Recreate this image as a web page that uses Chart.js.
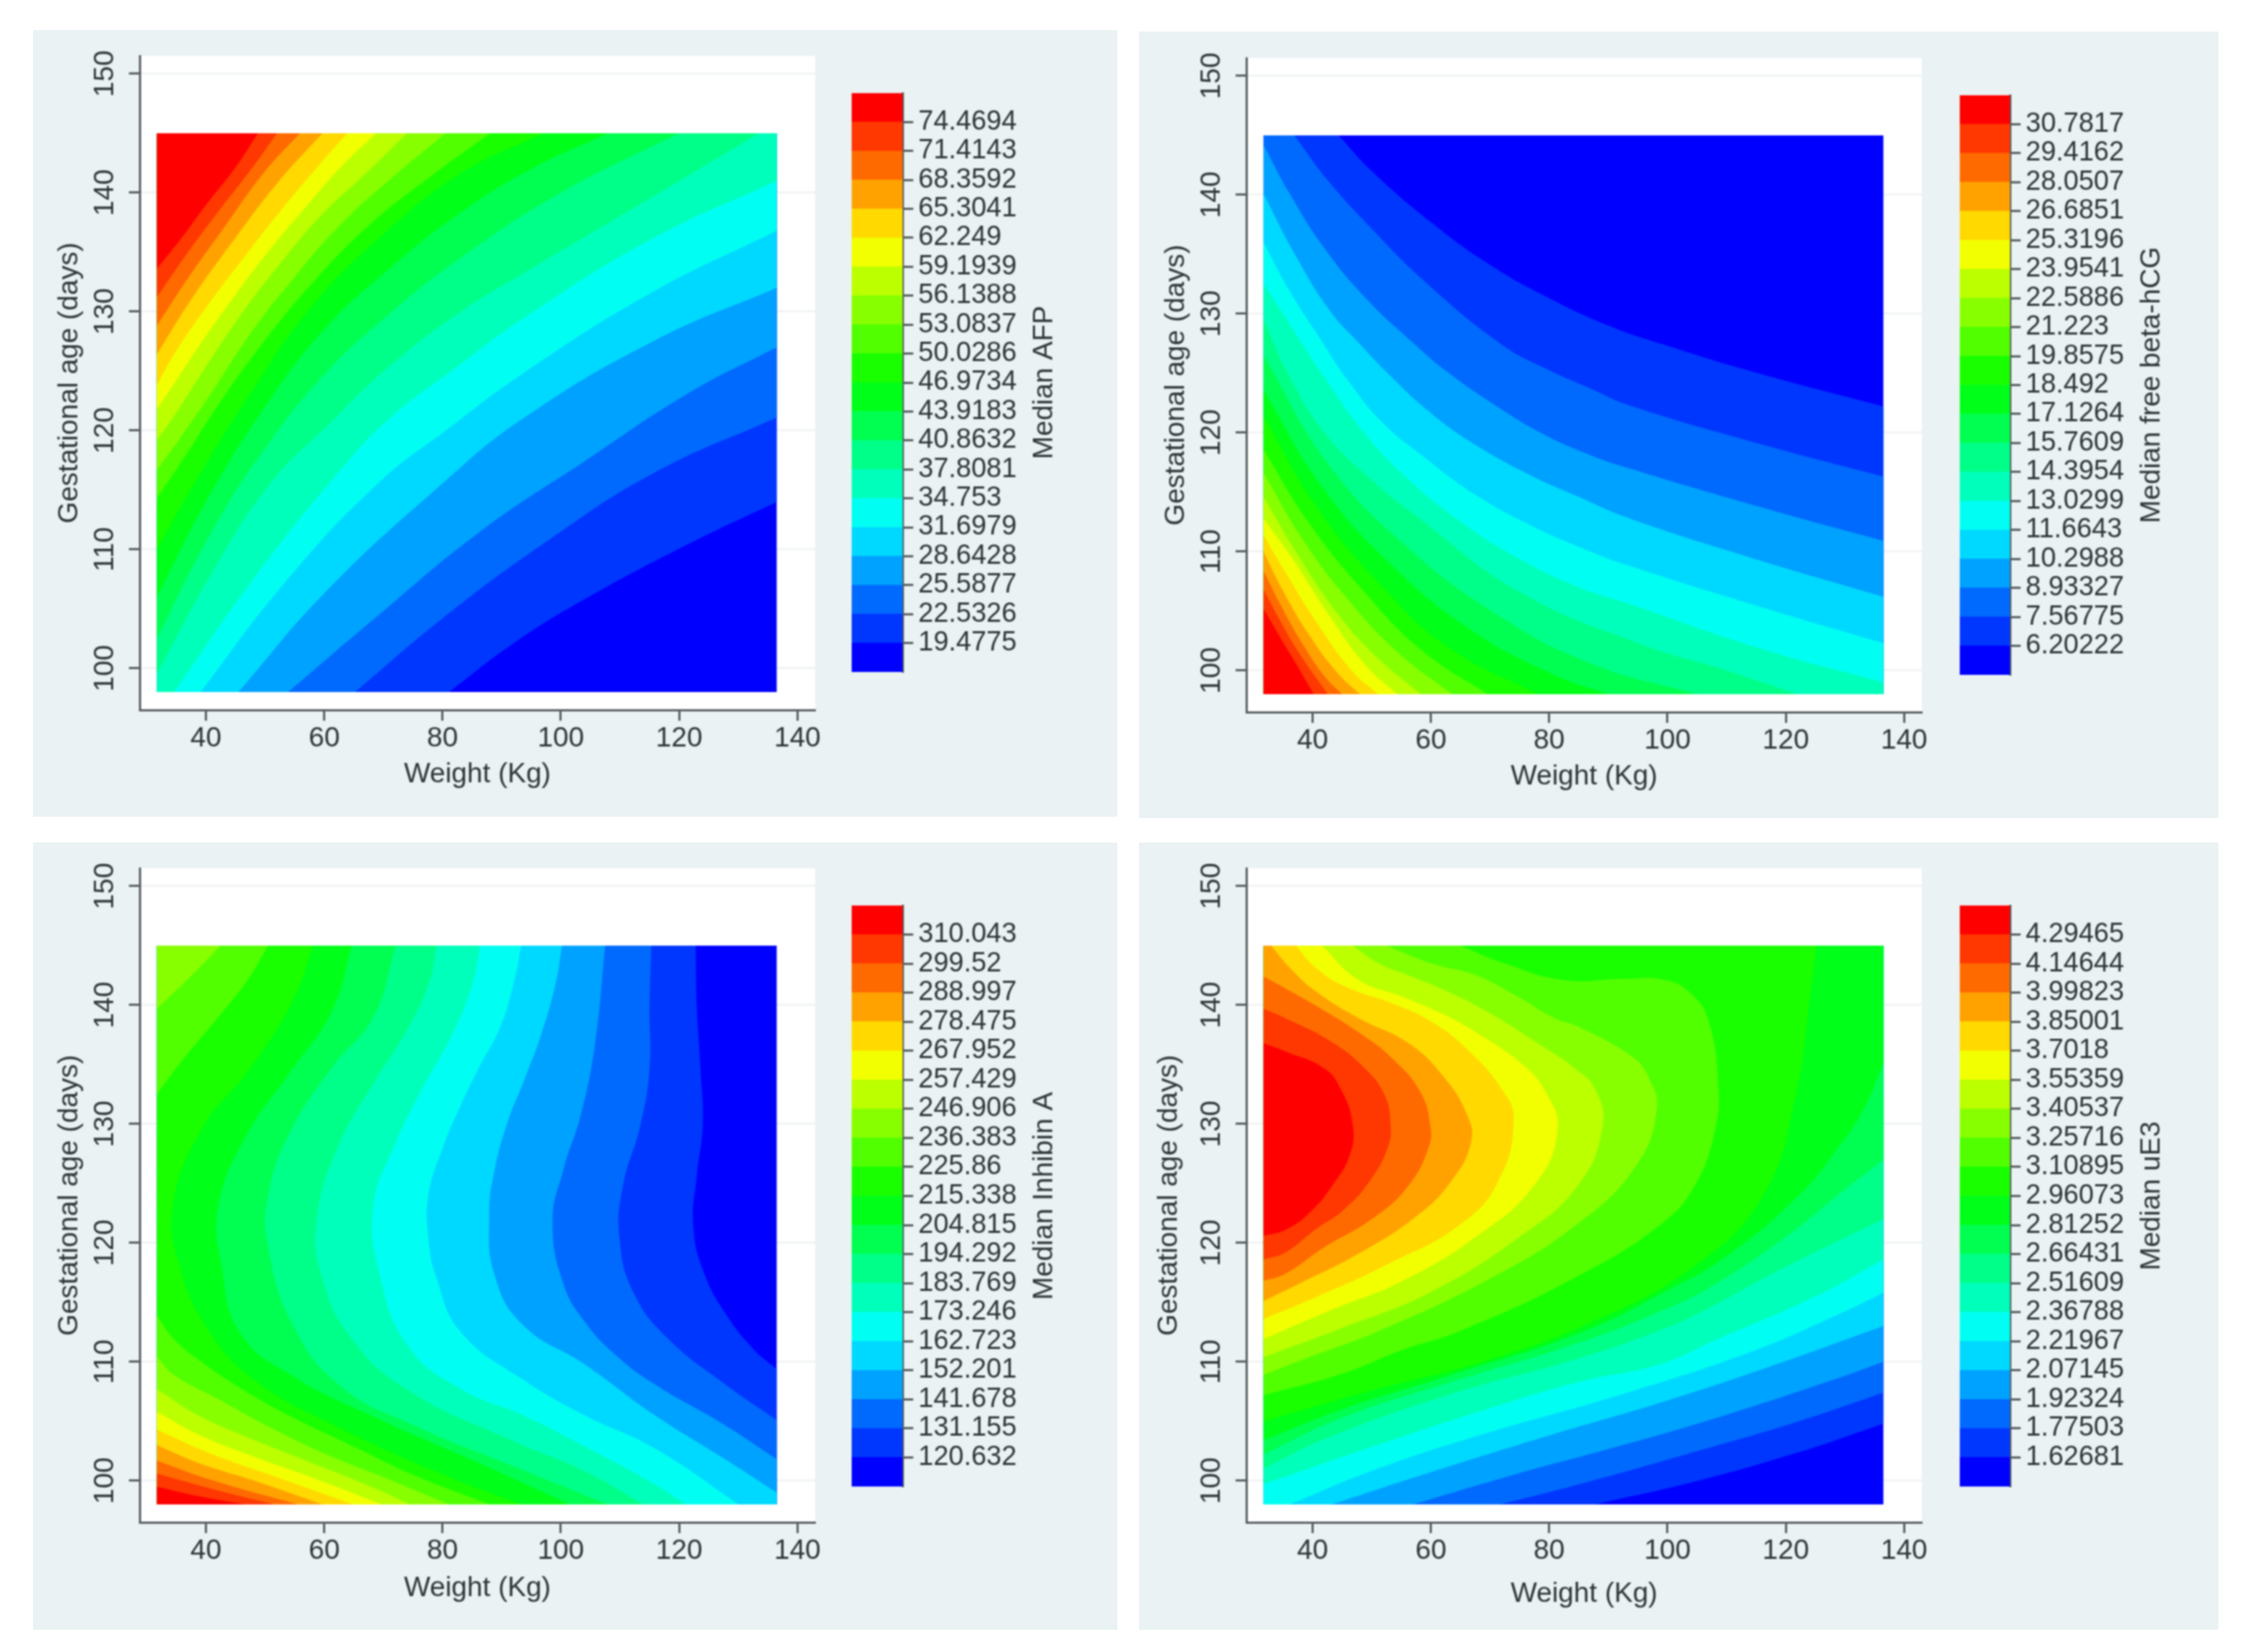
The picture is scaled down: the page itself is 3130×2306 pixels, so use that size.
<!DOCTYPE html>
<html>
<head>
<meta charset="utf-8">
<title>Median serum markers by weight and gestational age</title>
<script src="https://cdn.jsdelivr.net/npm/chart.js"></script>
<style>
    html, body { margin: 0; background: #fff; }
    body { position: relative; width: 3130px; height: 2306px; overflow: hidden; }
    .panel { position: absolute; background: #eaf2f3; }
    canvas { position: absolute; filter: blur(0.8px); }
</style>
</head>
<body>
<script>
// band colours, low to high
const bandColors = ["#0000ff", "#0037ff", "#006aff", "#00a2ff", "#00d9ff", "#00fff2", "#00ffbb", "#00ff88", "#00ff51", "#00ff19",
    "#19ff00", "#51ff00", "#88ff00", "#bbff00", "#f2ff00", "#ffd900", "#ffa200", "#ff6a00", "#ff3700", "#ff0000"];

const weightTicks = [40, 60, 80, 100, 120, 140];
const ageTicks = [100, 110, 120, 130, 140, 150];

// contour levels (colour bar ticks)
const afpLevels = [19.4775, 22.5326, 25.5877, 28.6428, 31.6979, 34.753, 37.8081, 40.8632, 43.9183, 46.9734, 50.0286, 53.0837, 56.1388, 59.1939, 62.249, 65.3041, 68.3592, 71.4143, 74.4694];
const hcgLevels = [6.20222, 7.56775, 8.93327, 10.2988, 11.6643, 13.0299, 14.3954, 15.7609, 17.1264, 18.492, 19.8575, 21.223, 22.5886, 23.9541, 25.3196, 26.6851, 28.0507, 29.4162, 30.7817];
const inhibinLevels = [120.632, 131.155, 141.678, 152.201, 162.723, 173.246, 183.769, 194.292, 204.815, 215.338, 225.86, 236.383, 246.906, 257.429, 267.952, 278.475, 288.997, 299.52, 310.043];
const ue3Levels = [1.62681, 1.77503, 1.92324, 2.07145, 2.21967, 2.36788, 2.51609, 2.66431, 2.81252, 2.96073, 3.10895, 3.25716, 3.40537, 3.55359, 3.7018, 3.85001, 3.99823, 4.14644, 4.29465];

// contour lines: one line per level, [weight, age]
const afpCurves = [
    [[81.1,98],[92,102.1],[104,105.8],[121.8,110.5],[136.5,114]],
    [[65.2,98],[80,104.2],[98,110.8],[116,116.5],[136.5,121.1]],
    [[53.9,98],[68.3,104.1],[86.1,111.4],[104,117.4],[121.8,123.2],[136.5,127]],
    [[45.5,98],[60,106.3],[79.9,115.5],[93.6,121],[116,127.6],[136.5,132]],
    [[39.1,98],[53,107],[69,115.5],[81.1,120.2],[93.6,124.8],[115,131.5],[136.5,136.8]],
    [[34.6,98],[48,107.5],[62.1,116.3],[71,121],[83.1,125.6],[93.6,129.4],[115,136],[136.5,141]],
    [[31.7,99.5],[41,108],[50.8,115.5],[60.9,120.6],[71,125.4],[83.1,130],[93.6,133.2],[115,139.5],[133.5,145]],
    [[31.7,102.5],[41,111.5],[50,118.5],[60,124.7],[71,129.8],[83,134.5],[100,140],[120,145]],
    [[31.7,106],[40,114],[50,122],[60,128.5],[71,133.6],[83,138.3],[95,142],[108,145]],
    [[31.7,110],[38,115.5],[48,123.5],[58,130.5],[70,136.5],[83,141.6],[97,145]],
    [[31.7,114.3],[36.7,118],[42.7,122.6],[50,127.6],[58,132.4],[67,137],[77,141],[88,145]],
    [[31.7,116.7],[35.4,119.2],[40.7,123],[47.6,128.2],[54.8,132.8],[62.9,137.4],[71.8,141.4],[80.5,145]],
    [[31.7,119.2],[34.6,121.2],[39.5,125],[46,129.8],[52.8,134.2],[59.7,138.2],[67,141.6],[74,145]],
    [[31.7,121.8],[34.2,123.6],[38.7,127],[44.7,131.2],[50.8,135.2],[56.9,138.8],[62.9,142.2],[68.8,145]],
    [[31.7,123.8],[34.6,126.4],[40.7,130.8],[46.8,134.8],[52.8,138.6],[58.9,142.2],[63.9,145]],
    [[31.7,126.4],[37.5,131],[44.7,136],[52.4,141],[59.7,145]],
    [[31.7,128.8],[36.7,132.6],[42.7,136.8],[50,141.8],[55.9,145]],
    [[31.7,131.2],[36.7,134.8],[42.7,138.8],[48,142.2],[52,145]],
    [[31.7,133.6],[35.9,136.2],[40.7,139.4],[45.1,142.2],[48.8,145]]
];

const hcgCurves = [
    [[44.4,145],[50,142],[60,137.7],[70,134.1],[80,131.3],[90,129],[100,127.3],[116,124.9],[136.5,122.2]],
    [[36.9,145],[42.6,141.2],[49.7,137.3],[59.2,132.6],[71.7,127.5],[78.9,125.5],[87,123.7],[93.5,122.3],[116,119],[136.5,116.3]],
    [[31.7,144.2],[36,140.2],[42,135.5],[49,131.3],[57.1,127.5],[62.8,125.1],[70.9,122.3],[78.9,119.9],[87,118.1],[93.5,117],[116,113.7],[136.5,110.9]],
    [[31.7,140.1],[37,135],[43,130.2],[47.9,127.5],[53.1,124.8],[59.6,121.8],[66.8,119.2],[76.9,116.4],[85,114.6],[93.5,112.8],[116,109.2],[136.5,106.2]],
    [[31.7,136],[36,132],[41.8,127.5],[45.8,124.5],[51.9,120.8],[58.7,118],[66.8,115],[76.9,112.2],[87,110],[93.5,108.8],[116,105.3],[136.5,102.3]],
    [[31.7,132.5],[35,130],[38.2,127.5],[42.2,124.5],[48.7,120],[55.5,116.4],[64.8,112.6],[74.9,109.4],[85,107],[93.5,105.6],[116,101.8],[136.5,99]],
    [[31.7,129.5],[36,124.8],[42,120],[50,116],[58,112.8],[75,106.6],[95,102.3],[110,100],[122,98]],
    [[31.7,126.5],[42.6,117.4],[55.5,110.6],[70.9,104.8],[87,100.6],[105,98]],
    [[31.7,123.6],[41.4,115.6],[53.1,109],[66.8,103.4],[81,99.6],[90,98]],
    [[31.7,121.4],[40.6,113.8],[51.9,107],[62.8,102],[78,98]],
    [[31.7,118.6],[39.4,112.4],[49.1,106.4],[58.7,101.6],[69.6,98]],
    [[31.7,116.6],[38.6,110.8],[46.6,105.6],[54.7,101.4],[63.6,98]],
    [[31.7,114.6],[37.4,109.8],[44.2,104.8],[50.7,101.2],[58.3,98]],
    [[31.7,112.8],[36.6,109.4],[42.6,104.8],[48.7,100.6],[54.3,98]],
    [[31.7,111.4],[35.7,108],[41,103.8],[46.6,100],[51.1,98]],
    [[31.7,110],[34.9,106.8],[39.4,103],[44.2,99.8],[48,98]],
    [[31.7,108.4],[34.5,105.6],[38.6,102],[42.2,99.4],[45,98]],
    [[31.7,106.8],[34.5,104.2],[37.8,101.4],[42.6,98]],
    [[31.7,105.2],[34.5,102.8],[37.4,100.4],[40.2,98]]
];

const inhibinCurves = [
    [[136.5,109.4],[132.5,111.1],[127.8,114.1],[124.2,117.5],[122.4,121.4],[123,125.7],[124,130],[123.6,134.7],[123,139.8],[122.8,145]],
    [[136.5,105.1],[127.8,108.1],[118.2,111.9],[112.3,115.8],[109.9,120.5],[110.5,124.8],[113.5,130],[115,134.7],[115,139.8],[115.3,145]],
    [[136.5,101.8],[127,104.9],[115.9,108.1],[109.2,110.6],[104,113.4],[100.4,116.6],[98.6,121.8],[100.4,126.1],[103.4,130.8],[105.8,136.8],[107.5,145]],
    [[136.5,99],[127.8,101.8],[115.9,105.5],[104,109.8],[93.6,113.1],[88.8,117.3],[87.9,122.5],[88.8,126.1],[90.9,130],[93.9,133.8],[96.8,137.7],[99.2,142],[100.2,145]],
    [[130.1,98],[115.9,102.7],[104,105.5],[93.6,108.5],[83.1,112.5],[79,117],[77.6,120.5],[77.6,124],[80.2,128.2],[83.2,131.7],[86.1,134.7],[89.7,138.1],[92.1,142],[93.3,145]],
    [[121.2,98],[115.9,99.7],[104,102.9],[93.6,105.5],[83.1,107.7],[74.2,111.3],[69.4,117.3],[68.3,123.1],[71.9,128.2],[76.6,133],[81.4,137.3],[84.9,141.5],[86.4,145]],
    [[114,98],[104,100.8],[92.1,103.3],[74.2,107.6],[64.7,111.9],[59.4,117.5],[58.8,122.2],[62.4,128.2],[68.3,133.4],[74.2,138.1],[77.8,142],[79,145]],
    [[108,98],[92.1,101.2],[75.4,104.6],[62.4,108.1],[54.6,113.2],[50.5,119.7],[50.5,123.9],[54,129.1],[61.2,134.7],[68.3,139],[72.1,145]],
    [[101.6,98],[86.1,101.5],[68.3,105.4],[54,109],[45.7,112.5],[42.7,117.9],[42.1,123.1],[46.9,129.1],[54,134.2],[61.2,139.4],[64.7,145]],
    [[93.3,98],[80.2,100.5],[62.4,104.5],[48.1,108.5],[40,113],[35.6,118],[34.4,123.1],[39.2,129.5],[47.5,134.7],[54.6,140.3],[58.2,145]],
    [[88,98],[75,100.5],[64.9,102.9],[54.8,105.3],[46.8,107.5],[39.5,109.9],[34.6,111.9],[31.7,113.9]],
    [[81.1,98],[71,100.1],[60.9,102.1],[50.8,104.5],[42.7,106.7],[34.6,108.9],[31.7,110.4]],
    [[74.6,98],[67,99.7],[56.9,101.7],[46.8,103.7],[38.7,105.5],[31.7,107.7]],
    [[69.8,98],[58.9,100.1],[48.8,101.9],[38.7,103.9],[31.7,105.8]],
    [[64.9,98],[50.8,100.5],[40.7,102.3],[31.7,104.3]],
    [[59.7,98],[48.8,99.9],[38.7,101.5],[31.7,103]],
    [[55.6,98],[40.7,100.1],[31.7,101.7]],
    [[51.6,98],[41.9,99.2],[31.7,100.6]],
    [[46.8,98],[38.7,98.7],[31.7,99.5]]
];
// inhibin levels 10 and 11 also close off the top left corner
const inhibinCornerCurves = [
    [10, [[31.7,132.5],[35.6,135.1],[42.1,139],[46.9,142],[50.5,145]]],
    [11, [[31.7,139.7],[37.4,142.4],[42.5,145]]]
];

const ue3Curves = [
    [[87.7,98],[104.4,99.9],[122.2,102.4],[136.5,104.8]],
    [[71.7,98],[86.6,99.9],[104.4,102.4],[122.2,105],[136.5,107.4]],
    [[56.9,98],[74.7,100.6],[92.5,103],[110.3,105.6],[128.1,108.5],[136.5,110]],
    [[43.2,98],[59.2,100.6],[80.6,103.9],[98.4,106.5],[116.2,109.4],[136.5,113]],
    [[36.1,98],[50.9,101],[68.7,103.9],[92.5,107.3],[113.9,110.8],[128.1,113.8],[136.5,115.8]],
    [[31.7,99.7],[50.9,103],[68.7,105.9],[85,108.3],[98.7,109.8],[108,111.8],[125,115.5],[136.5,118.6]],
    [[31.7,101],[42,103.5],[62.8,107.2],[85,110.3],[100,112.9],[108,114.8],[120,118],[136.5,122]],
    [[31.7,102.2],[45,105.3],[62.8,108.2],[85,111.6],[100,114.5],[108,116.5],[120,120.5],[130,124.5],[136.5,127]],
    [[31.7,103.4],[45,106],[62.8,108.8],[85,112.4],[100,116],[110.3,119],[122.2,124],[128.1,127.5],[132.9,131],[136.5,135.1]],
    [[31.7,105],[50.9,107.7],[68.7,110],[86.6,113.2],[104.4,118],[116.2,124],[121.7,132.5],[124,140.3],[125.2,145]],
    [[31.7,107.2],[45,109],[55.2,111],[65,112.6],[84.8,117.2],[98.7,121.5],[104.6,124.8],[108,129.4],[108.6,133],[107,138.6],[104.1,140.9],[99.7,142.1],[92.3,142.2],[82.4,142.1],[72.5,143.5],[65,145]],
    [[31.7,108.9],[40,110.5],[50.3,112.4],[70,117],[84.8,121.6],[94.7,126.5],[98.2,131.3],[96.7,134],[94.2,135.6],[84.8,138.2],[80.9,138.9],[74,140.9],[67.6,142.5],[60.1,143.5],[52.5,145]],
    [[31.7,110.4],[45.3,112.9],[60.1,115.9],[75,120.5],[84.8,124.8],[89,129.7],[87.8,132.9],[84.3,134.7],[77.4,137],[70,139.3],[62.6,141.2],[56.2,142.5],[51.2,143.5],[46.8,145]],
    [[31.7,111.9],[42.9,114.3],[55.2,116.8],[67.6,120.5],[77.4,124.8],[81.4,129.4],[79.4,132.7],[75,135.2],[67.6,137.7],[62.6,139.1],[55.2,140.7],[47.8,142.1],[41.6,145]],
    [[31.7,113.6],[40.4,115.4],[52.7,118.2],[65.1,121.6],[71.5,125.3],[74,130.4],[72,132.9],[66.1,136.3],[60.1,138.6],[54.2,140],[45.3,141.6],[40.4,143.2],[37.2,145]],
    [[31.7,115.1],[37.9,116.6],[47.8,119.1],[57.7,122.3],[63.6,125.3],[66.8,128.5],[66.1,130.8],[62.1,134],[56.2,136.8],[47.8,138.9],[40.4,141.2],[36.4,143],[33,145]],
    [[31.7,116.8],[35.4,117.4],[41.9,119.6],[50.3,122.1],[56.2,124.8],[59.6,128],[59.9,129.9],[58.2,132.7],[53.7,135.4],[47.8,137.7],[40.4,140],[35.4,141.4],[31.7,142.4]],
    [[31.7,118.6],[35.4,119.2],[40.4,121.1],[45.3,122.8],[49.8,125.3],[52.7,128],[53.2,129.9],[52.2,132.4],[48.8,134.7],[42.9,137],[35.4,138.9],[31.7,139.7]],
    [[31.7,120.6],[35.4,121.1],[39.4,122.5],[43.3,124.8],[46.3,127.4],[46.8,129.9],[44.8,132.9],[41.9,134.7],[35.4,136.1],[31.7,136.8]]
];

// data window of the contour fill, and axis ranges
const fillLeft = 31.7, fillRight = 136.5, fillBottom = 98, fillTop = 145;
const xRange = [28.8, 143], yRange = [96.5, 151.5];

const FONT = "'Liberation Sans', Arial, sans-serif";
const TEXT = "#2e3436", AXIS = "#555b5e";

// PANEL LAYOUT (page pixels)
const panels = [
    { box: [46, 42, 1560, 1140], plotL: 195, plotB: 991, bar: [1189, 130, 1260, 938], barTitleX: 1458,
      yTitlePad: 28, xTitlePad: 35, title: "Median AFP", levels: afpLevels, curves: afpCurves },
    { box: [1590, 44, 3097, 1142], plotL: 1740, plotB: 994, bar: [2736, 133, 2806, 942], barTitleX: 3004,
      yTitlePad: 29, xTitlePad: 34, title: "Median free beta-hCG", levels: hcgLevels, curves: hcgCurves, highBelow: true },
    { box: [46, 1176, 1560, 2275], plotL: 195, plotB: 2125, bar: [1189, 1264, 1260, 2075], barTitleX: 1458,
      yTitlePad: 28, xTitlePad: 34, title: "Median Inhibin A", levels: inhibinLevels, curves: inhibinCurves, extra: inhibinCornerCurves },
    { box: [1590, 1176, 3097, 2275], plotL: 1740, plotB: 2125, bar: [2736, 1264, 2806, 2075], barTitleX: 3004,
      yTitlePad: 19, xTitlePad: 26, title: "Median uE3", levels: ue3Levels, curves: ue3Curves }
];
const plotW = 943, plotH = 913;

// where a point sits on the fill rectangle, going counter clockwise from bottom left
function edgePos(p) {
    const d = [p[1] - fillBottom, fillRight - p[0], fillTop - p[1], p[0] - fillLeft];
    const e = d.indexOf(Math.min(...d));
    if (e === 0) return (p[0] - fillLeft) / (fillRight - fillLeft);
    if (e === 1) return 1 + (p[1] - fillBottom) / (fillTop - fillBottom);
    if (e === 2) return 2 + (fillRight - p[0]) / (fillRight - fillLeft);
    return 3 + (fillTop - p[1]) / (fillTop - fillBottom);
}

// closes a contour line into the area above that level. high side is on the left of travel.
function regionOf(line) {
    const corners = [[fillLeft, fillBottom], [fillRight, fillBottom], [fillRight, fillTop], [fillLeft, fillTop]];
    const first = line[0], last = line[line.length - 1];
    const start = edgePos(first), end = edgePos(last);
    const stop = start > end ? start : start + 4;
    const pts = line.map(p => ({ x: p[0], y: p[1] }));
    // doubled points keep the tension from bending the straight edges
    pts.push({ x: last[0], y: last[1] });
    for (let s = Math.floor(end) + 1; s < stop; s++) {
        const c = corners[s % 4];
        pts.push({ x: c[0], y: c[1] }, { x: c[0], y: c[1] });
    }
    pts.push({ x: first[0], y: first[1] });
    return pts;
}

function regionDataset(pts, color, tension) {
    return { data: pts, showLine: true, fill: "shape", backgroundColor: color, borderWidth: 0, pointRadius: 0, tension: tension };
}

function addCanvas(x, y, w, h) {
    const c = document.createElement("canvas");
    c.width = w;
    c.height = h;
    c.style.cssText = `left:${x}px;top:${y}px;width:${w}px;height:${h}px`;
    document.body.appendChild(c);
    return c;
}

const whitePlot = {
    id: "whitePlot",
    beforeDraw(chart) {
        const a = chart.chartArea;
        chart.ctx.fillStyle = "#fff";
        chart.ctx.fillRect(a.left, a.top, a.width, a.height);
    }
};

// colour bar title reads upward, which a right hand axis title can't do
const barTitle = {
    id: "barTitle",
    afterDraw(chart, args, opts) {
        const a = chart.chartArea, ctx = chart.ctx;
        ctx.save();
        ctx.translate(opts.x, (a.top + a.bottom) / 2);
        ctx.rotate(-Math.PI / 2);
        ctx.font = "39px " + FONT;
        ctx.fillStyle = TEXT;
        ctx.textAlign = "center";
        ctx.textBaseline = "middle";
        ctx.fillText(opts.text, 0, 0);
        ctx.restore();
    }
};

function drawContour(p) {
    const [bl, bt, br, bb] = p.box;
    const div = document.createElement("div");
    div.className = "panel";
    div.style.cssText = `left:${bl}px;top:${bt}px;width:${br - bl}px;height:${bb - bt}px`;
    document.body.appendChild(div);

    // lowest band first so it ends up underneath. chart.js draws the first dataset last
    const datasets = [];
    const base = [[fillLeft, fillBottom], [fillRight, fillBottom], [fillRight, fillTop], [fillLeft, fillTop]].map(c => ({ x: c[0], y: c[1] }));
    datasets.unshift(regionDataset(base, bandColors[0], 0));
    p.curves.forEach((curve, k) => {
        const line = p.highBelow ? curve.slice().reverse() : curve;
        datasets.unshift(regionDataset(regionOf(line), bandColors[k + 1], 0.45));
        (p.extra || []).filter(e => e[0] === k).forEach(e => {
            datasets.unshift(regionDataset(regionOf(e[1]), bandColors[k + 1], 0.45));
        });
    });

    const w = br - bl, h = bb - bt;
    new Chart(addCanvas(bl, bt, w, h), {
        type: "scatter",
        data: { datasets },
        plugins: [whitePlot],
        options: {
            responsive: false,
            animation: false,
            events: [],
            layout: {
                autoPadding: false,
                padding: { top: p.plotB - plotH - bt, right: br - p.plotL - plotW, left: 0, bottom: 0 }
            },
            plugins: { legend: { display: false }, tooltip: { enabled: false } },
            scales: {
                x: {
                    type: "linear", min: xRange[0], max: xRange[1],
                    afterBuildTicks: s => { s.ticks = weightTicks.map(v => ({ value: v })); },
                    afterFit: s => { s.height = bb - p.plotB; },
                    border: { color: AXIS, width: 3 },
                    grid: { drawOnChartArea: false, tickLength: 15, tickWidth: 3, tickColor: AXIS },
                    ticks: { color: TEXT, font: { family: FONT, size: 39 }, padding: 2, maxRotation: 0, autoSkip: false },
                    title: { display: true, text: "Weight (Kg)", color: TEXT, font: { family: FONT, size: 39 }, padding: { top: 0, bottom: p.xTitlePad } }
                },
                y: {
                    type: "linear", min: yRange[0], max: yRange[1],
                    afterBuildTicks: s => { s.ticks = ageTicks.map(v => ({ value: v })); },
                    afterFit: s => { s.width = p.plotL - bl; },
                    border: { color: AXIS, width: 3 },
                    grid: { color: "#f1f3f4", lineWidth: 3, tickLength: 15, tickWidth: 3, tickColor: AXIS },
                    ticks: { color: TEXT, font: { family: FONT, size: 39 }, padding: 0, minRotation: 90, maxRotation: 90, crossAlign: "center", autoSkip: false },
                    title: { display: true, text: "Gestational age (days)", color: TEXT, font: { family: FONT, size: 39 }, padding: { top: p.yTitlePad, bottom: 0 } }
                }
            }
        }
    });
}

function drawColorBar(p) {
    const [l, t, r, b] = p.bar;
    const lv = p.levels;
    const barMin = lv[0] - (lv[1] - lv[0]);
    const barMax = lv[lv.length - 1] + (lv[lv.length - 1] - lv[lv.length - 2]);
    const edges = [barMin, ...lv, barMax];
    const datasets = bandColors.map((color, i) => ({
        data: [[edges[i], edges[i + 1]]], backgroundColor: color, borderWidth: 0, grouped: false, barPercentage: 1, categoryPercentage: 1
    }));
    const pad = 30, cw = 330;
    new Chart(addCanvas(l, t - pad, cw, b - t + pad * 2), {
        type: "bar",
        data: { labels: [p.title], datasets },
        plugins: [barTitle],
        options: {
            responsive: false,
            animation: false,
            events: [],
            layout: { autoPadding: false, padding: { top: pad, bottom: pad, left: 0, right: 0 } },
            plugins: {
                legend: { display: false },
                tooltip: { enabled: false },
                barTitle: { text: p.title, x: p.barTitleX - l }
            },
            scales: {
                x: { display: false },
                y: {
                    type: "linear", position: "right", min: barMin, max: barMax,
                    afterBuildTicks: s => { s.ticks = lv.map(v => ({ value: v })); },
                    afterFit: s => { s.width = cw - (r - l); },
                    border: { color: AXIS, width: 3 },
                    grid: { drawOnChartArea: false, tickLength: 15, tickWidth: 3, tickColor: AXIS },
                    ticks: { color: TEXT, font: { family: FONT, size: 38 }, padding: 7, autoSkip: false, callback: v => String(v) }
                }
            }
        }
    });
}

panels.forEach(p => {
    drawContour(p);
    drawColorBar(p);
});
</script>
</body>
</html>
